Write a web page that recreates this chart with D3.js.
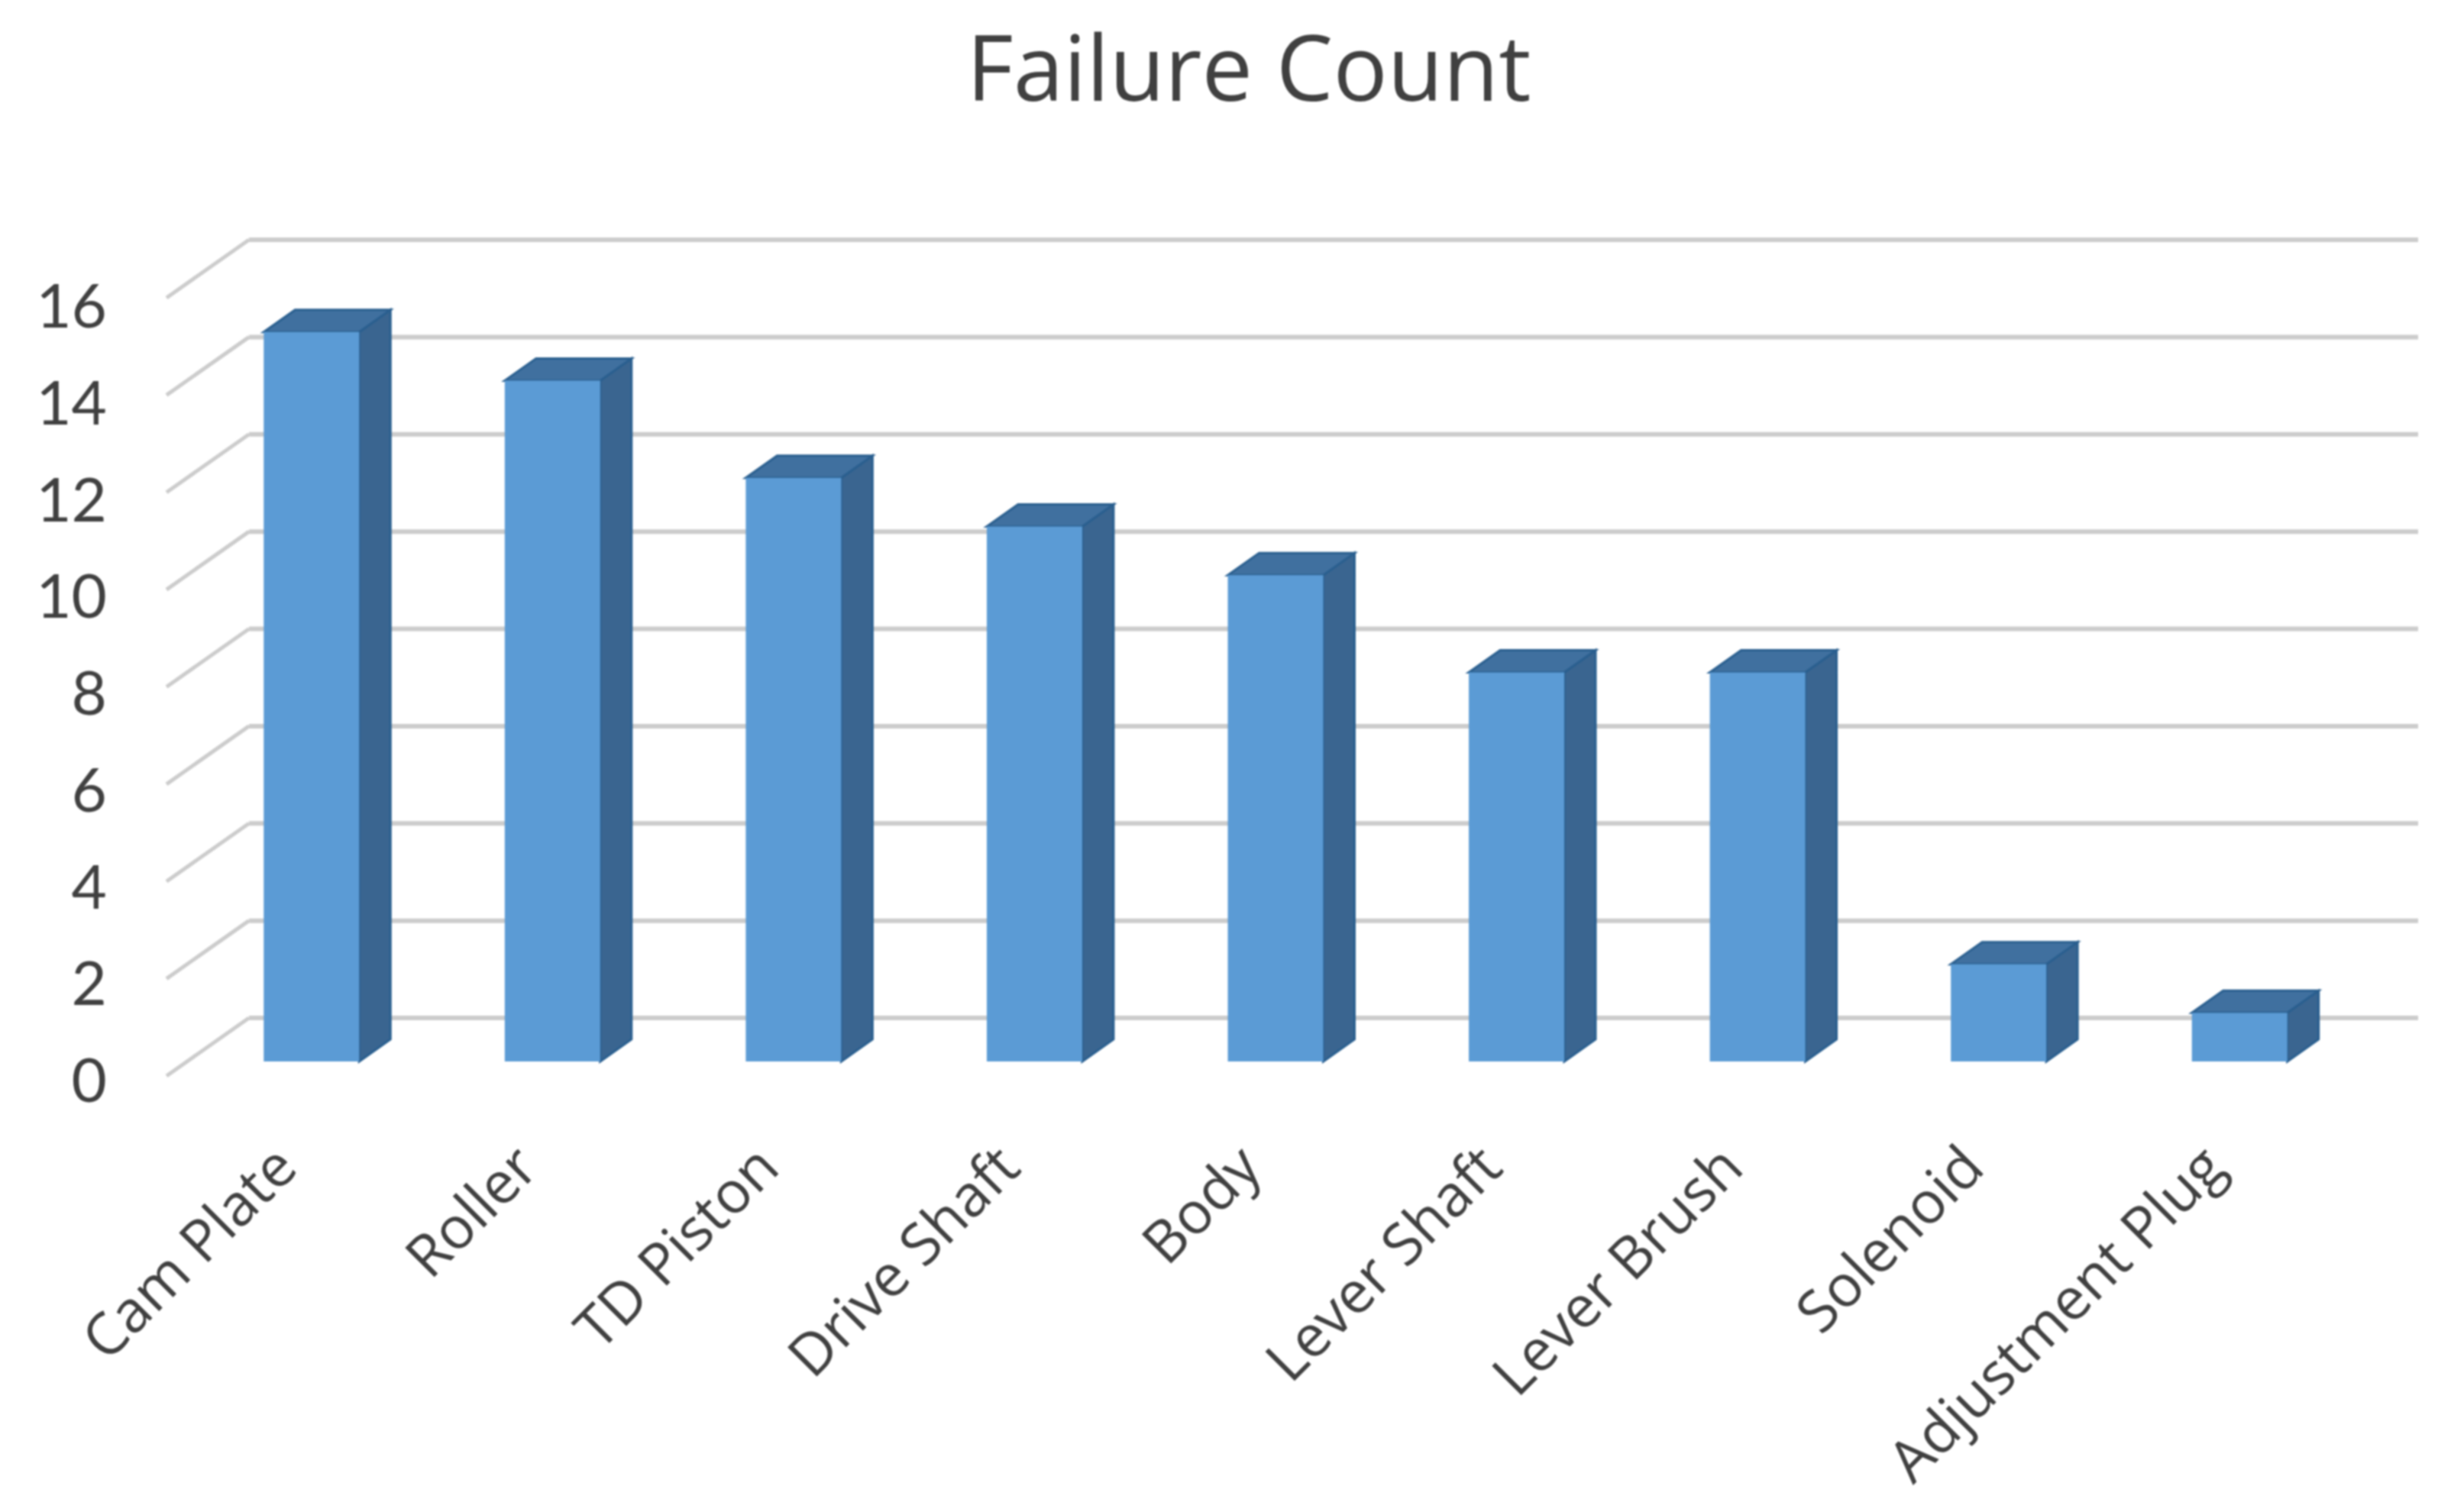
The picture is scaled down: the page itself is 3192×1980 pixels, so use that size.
<!DOCTYPE html>
<html>
<head>
<meta charset="utf-8">
<script src="https://cdn.jsdelivr.net/npm/d3@7"></script>
<style>
  html, body { margin: 0; padding: 0; background: #fff; }
  svg { display: block; filter: blur(1px); }
  .tick-y text { font-family: Lato, sans-serif; font-size: 80px; fill: #404040; }
  .tick-x text { font-family: "Open Sans", sans-serif; font-size: 76px; fill: #404040; }
  .chart-title { font-family: "Open Sans", sans-serif; font-size: 118.5px; fill: #404040; }
</style>
</head>
<body>
<svg id="chart" width="3192" height="1980"></svg>
<script>
const TITLE = 'Failure Count';
const categories = ['Cam Plate', 'Roller', 'TD Piston', 'Drive Shaft', 'Body', 'Lever Shaft', 'Lever Brush', 'Solenoid', 'Adjustment Plug'];
const failures = [15, 14, 12, 11, 10, 8, 8, 2, 1];
const yTicks = [0, 2, 4, 6, 8, 10, 12, 14, 16];

const svg = d3.select('#chart');

// Plane of the bar fronts, the back wall sits up and to the right of it
const depth = { x: 41, y: 29 };
const wall = { x: 108, y: 76 };

const xScale = d3.scaleBand().domain(categories).range([250, 3090]).paddingInner(0.604).paddingOuter(0.302);
const yScale = d3.scaleLinear().domain([0, 16]).range([1390, 371]);

const yBack = v => yScale(v) - 57;
const xBack = [326, 3166];

// Gridlines
const grid = svg.append('g');
yTicks.forEach(t => {
    grid.append('line')
        .attr('x1', xBack[0]).attr('x2', xBack[1])
        .attr('y1', yBack(t)).attr('y2', yBack(t))
        .attr('stroke', '#cccccc').attr('stroke-width', 6);
    grid.append('line')
        .attr('x1', xBack[0]).attr('y1', yBack(t))
        .attr('x2', xBack[0] - wall.x).attr('y2', yBack(t) + wall.y)
        .attr('stroke', '#cccccc').attr('stroke-width', 5);
});

// Bars
const bars = svg.append('g').selectAll('g').data(categories).join('g');
const barLeft = d => xScale(d);
const barRight = d => xScale(d) + xScale.bandwidth();
const barTop = (d, i) => yScale(failures[i]);
const base = yScale(0);

bars.append('polygon')
    .attr('points', (d, i) => [
        [barRight(d), barTop(d, i)], [barRight(d) + depth.x, barTop(d, i) - depth.y],
        [barRight(d) + depth.x, base - depth.y], [barRight(d), base]
    ].join(' '))
    .attr('fill', '#3a6590').attr('stroke', '#2a5f8f').attr('stroke-width', 3);

bars.append('polygon')
    .attr('points', (d, i) => [
        [barLeft(d), barTop(d, i)], [barLeft(d) + depth.x, barTop(d, i) - depth.y],
        [barRight(d) + depth.x, barTop(d, i) - depth.y], [barRight(d), barTop(d, i)]
    ].join(' '))
    .attr('fill', '#40709f').attr('stroke', '#2a5f8f').attr('stroke-width', 3);

bars.append('rect')
    .attr('x', barLeft)
    .attr('y', barTop)
    .attr('width', xScale.bandwidth())
    .attr('height', (d, i) => base - barTop(d, i))
    .attr('fill', '#5b9bd5');

// Y axis labels
const yAxis = svg.append('g')
    .attr('class', 'tick-y')
    .attr('transform', 'translate(140,0)')
    .call(d3.axisLeft(d3.scaleLinear().domain([0, 16]).range([1417, 403])).tickValues(yTicks).tickSize(0).tickPadding(0));
yAxis.select('.domain').remove();

// X axis labels
const xAxis = svg.append('g')
    .attr('class', 'tick-x')
    .attr('transform', 'translate(-34,1514)')
    .call(d3.axisBottom(xScale).tickSize(0).tickPadding(0));
xAxis.select('.domain').remove();
xAxis.selectAll('text')
    .attr('text-anchor', 'end')
    .attr('dy', '0.35em')
    .attr('y', 0)
    .attr('transform', 'rotate(-45)');

svg.append('text')
    .attr('class', 'chart-title')
    .attr('x', 1635)
    .attr('y', 132)
    .attr('text-anchor', 'middle')
    .text(TITLE);
</script>
</body>
</html>
